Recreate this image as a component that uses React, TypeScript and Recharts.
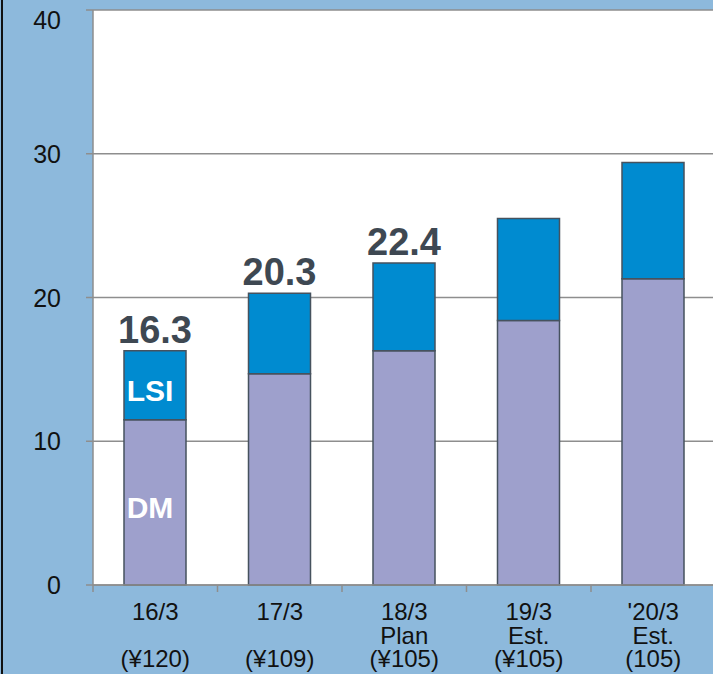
import { BarChart, Bar, XAxis, YAxis, CartesianGrid, LabelList } from 'recharts';

// fiscal years on the x axis, with note + exchange rate rows under each
const categories = ['16/3', '17/3', '18/3', '19/3', "'20/3"];
const notes = ['', '', 'Plan', 'Est.', 'Est.'];
const rates = ['(¥120)', '(¥109)', '(¥105)', '(¥105)', '(105)'];

// DM part and bar totals (LSI = total - DM)
const dmValues = [11.5, 14.7, 16.3, 18.4, 21.3];
const totalValues = [16.3, 20.3, 22.4, 25.5, 29.4];
const totalShown = [true, true, true, false, false];

const yTicks = [0, 10, 20, 30, 40];

const data = categories.map((name, i) => ({
  name,
  dm: dmValues[i],
  lsi: +(totalValues[i] - dmValues[i]).toFixed(1),
  total: totalValues[i],
}));

const FONT = "'Liberation Sans', Arial, Helvetica, sans-serif";
const GRID = '#8e8e8e';
const EDGE = '#46525e';

function CategoryTick(props: any) {
  const { x, y, payload, index, width } = props;
  const half = payload?.offset || width / categories.length / 2;
  const i = typeof index === 'number' ? index : categories.indexOf(payload.value);
  const rows = [payload.value, notes[i], rates[i]];
  return (
    <g>
      <line x1={x - half} x2={x - half} y1={y} y2={y + 7} stroke={GRID} strokeWidth={1.5} />
      {rows.map((r, k) =>
        r ? (
          <text
            key={k}
            x={x}
            y={y + 35 + k * 23.5}
            textAnchor="middle"
            fontFamily={FONT}
            fontSize={24}
            fill="#111"
          >
            {r}
          </text>
        ) : null
      )}
    </g>
  );
}

// value ticks, kept inside the top edge
function ValueTick(props: any) {
  const { x, y, payload } = props;
  return (
    <text
      x={x}
      y={Math.max(y, 20)}
      dy="0.36em"
      textAnchor="end"
      fontFamily={FONT}
      fontSize={25}
      fill="#111"
    >
      {payload.value}
    </text>
  );
}

// bold total above the first bars
function TotalLabel(props: any) {
  const { x, y, width, index } = props;
  if (!totalShown[index]) return null;
  return (
    <text
      x={x + width / 2}
      y={y - 8}
      textAnchor="middle"
      fontFamily={FONT}
      fontWeight="bold"
      fontSize={38}
      fill="#3e4852"
    >
      {totalValues[index].toFixed(1)}
    </text>
  );
}

// segment names only on the first bar
function segmentLabel(text: string) {
  return (props: any) => {
    const { x, y, width, height, index } = props;
    if (index !== 0) return null;
    return (
      <text
        x={x + width / 2 - 5}
        y={y + height / 2 + 16}
        textAnchor="middle"
        fontFamily={FONT}
        fontWeight="bold"
        fontSize={30}
        fill="#ffffff"
      >
        {text}
      </text>
    );
  };
}

export default function App() {
  return (
    <div
      style={{
        position: 'absolute',
        left: 0,
        top: 0,
        width: 713,
        height: 674,
        overflow: 'hidden',
        background: '#8db9dc',
      }}
    >
      <div style={{ position: 'absolute', left: 1, top: 0, width: 2, height: 674, background: '#111' }} />
      <BarChart
        width={740}
        height={674}
        data={data}
        margin={{ top: 10, right: 24.5, bottom: 0, left: 0 }}
        barSize={62}
      >
        <CartesianGrid vertical={false} stroke={GRID} strokeWidth={1.5} fill="#ffffff" fillOpacity={1} />
        <XAxis
          dataKey="name"
          height={89}
          tickLine={false}
          tickSize={0}
          tickMargin={0}
          axisLine={{ stroke: GRID, strokeWidth: 1.5 }}
          tick={<CategoryTick />}
          interval={0}
        />
        <YAxis
          width={93}
          domain={[0, 40]}
          ticks={yTicks}
          interval={0}
          tickSize={7}
          tickMargin={25}
          axisLine={{ stroke: GRID, strokeWidth: 1.5 }}
          tickLine={{ stroke: GRID, strokeWidth: 1.5 }}
          tick={<ValueTick />}
        />
        <Bar dataKey="dm" stackId="s" fill="#9ea0cc" stroke={EDGE} strokeWidth={1.5} isAnimationActive={false}>
          <LabelList dataKey="dm" content={segmentLabel('DM')} />
        </Bar>
        <Bar dataKey="lsi" stackId="s" fill="#008bd0" stroke={EDGE} strokeWidth={1.5} isAnimationActive={false}>
          <LabelList dataKey="lsi" content={segmentLabel('LSI')} />
          <LabelList dataKey="total" content={<TotalLabel />} />
        </Bar>
      </BarChart>
    </div>
  );
}
